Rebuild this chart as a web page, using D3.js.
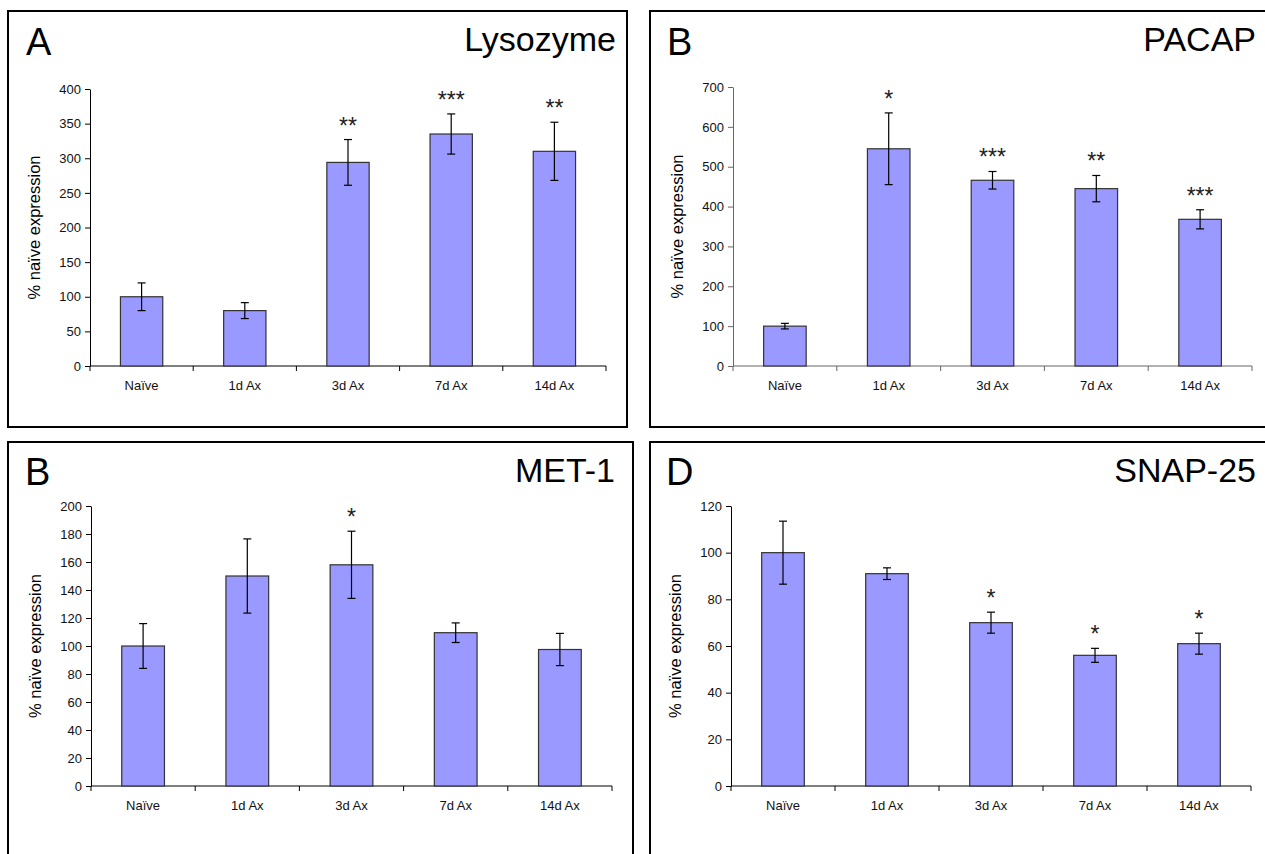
<!DOCTYPE html>
<html>
<head>
<meta charset="utf-8">
<script src="https://cdn.jsdelivr.net/npm/d3@7.9.0/dist/d3.min.js"></script>
<style>
  body { margin: 0; background: #fff; }
  svg { display: block; font-family: "Liberation Sans", Arial, sans-serif; }
</style>
</head>
<body>
<svg id="chart" width="1265" height="854"></svg>
<script>
// categories shared by all four panels
const categories = ["Naïve", "1d Ax", "3d Ax", "7d Ax", "14d Ax"];

// Lysozyme
const lysozymeMeans = [100, 80, 294, 335, 310];
const lysozymeErrors = [20, 11.5, 33, 29, 42];
const lysozymeStars = ["", "", "**", "***", "**"];
const lysozymeTicks = [0, 50, 100, 150, 200, 250, 300, 350, 400];

// PACAP
const pacapMeans = [100, 545, 466, 445, 368];
const pacapErrors = [7, 90, 22, 33, 24];
const pacapStars = ["", "*", "***", "**", "***"];
const pacapTicks = [0, 100, 200, 300, 400, 500, 600, 700];

// MET-1
const met1Means = [100, 150, 158, 109.5, 97.5];
const met1Errors = [16, 26.5, 24, 7, 11.5];
const met1Stars = ["", "", "*", "", ""];
const met1Ticks = [0, 20, 40, 60, 80, 100, 120, 140, 160, 180, 200];

// SNAP-25
const snapMeans = [100, 91, 70, 56, 61];
const snapErrors = [13.5, 2.5, 4.5, 3, 4.5];
const snapStars = ["", "", "*", "*", "*"];
const snapTicks = [0, 20, 40, 60, 80, 100, 120];

const svg = d3.select("#chart");
const barFill = "#9999ff";

// one boxed panel with a bar chart inside
function drawPanel(p) {
  const g = svg.append("g");

  g.append("rect")
    .attr("x", p.box[0]).attr("y", p.box[1])
    .attr("width", p.box[2] - p.box[0]).attr("height", p.box[3] - p.box[1])
    .attr("fill", "none").attr("stroke", "#000").attr("stroke-width", 2);

  g.append("text")
    .attr("x", p.letterX).attr("y", p.letterY)
    .attr("font-size", 38)
    .text(p.letter);

  g.append("text")
    .attr("x", p.titleX).attr("y", p.titleY)
    .attr("text-anchor", "end")
    .attr("font-size", 34)
    .text(p.title);

  const x = d3.scaleBand()
    .domain(categories)
    .range([p.x0, p.x1])
    .paddingInner(0.59)
    .paddingOuter(0.295);

  const y = d3.scaleLinear()
    .domain([0, d3.max(p.ticks)])
    .range([p.y0, p.y1]);

  // y axis
  const yAxis = g.append("g")
    .attr("transform", `translate(${p.x0},0)`)
    .call(d3.axisLeft(y).tickValues(p.ticks).tickSize(5).tickPadding(4).tickSizeOuter(0));
  yAxis.selectAll("text").attr("font-size", 13).attr("fill", "#111");

  // x axis: ticks sit between the categories
  const xAxis = g.append("g")
    .attr("transform", `translate(0,${p.y0})`);
  xAxis.append("line")
    .attr("x1", p.x0).attr("x2", p.x1)
    .attr("stroke", p.axisColor);
  const step = x.step();
  d3.range(categories.length + 1).forEach((i) => {
    xAxis.append("line")
      .attr("x1", p.x0 + i * step).attr("x2", p.x0 + i * step)
      .attr("y1", 0).attr("y2", 5)
      .attr("stroke", p.axisColor);
  });
  xAxis.selectAll("text.cat")
    .data(categories)
    .join("text")
    .attr("class", "cat")
    .attr("x", (d) => x(d) + x.bandwidth() / 2)
    .attr("y", 24)
    .attr("text-anchor", "middle")
    .attr("font-size", 13)
    .attr("fill", "#111")
    .text((d) => d);

  yAxis.selectAll("line, path").attr("stroke", p.axisColor);

  // y label
  g.append("text")
    .attr("transform", `translate(${p.x0 - 50},${(p.y0 + p.y1) / 2}) rotate(-90)`)
    .attr("text-anchor", "middle")
    .attr("font-size", 16.5)
    .text("% naïve expression");

  // bars
  g.selectAll("rect.bar")
    .data(p.means)
    .join("rect")
    .attr("class", "bar")
    .attr("x", (d, i) => x(categories[i]))
    .attr("y", (d) => y(d))
    .attr("width", x.bandwidth())
    .attr("height", (d) => y(0) - y(d))
    .attr("fill", barFill)
    .attr("stroke", "#333")
    .attr("stroke-width", 1.2);

  // error bars
  p.means.forEach((m, i) => {
    const cx = x(categories[i]) + x.bandwidth() / 2;
    const top = y(m + p.errors[i]);
    const bot = y(m - p.errors[i]);
    g.append("line").attr("x1", cx).attr("x2", cx).attr("y1", top).attr("y2", bot)
      .attr("stroke", "#000").attr("stroke-width", 1.2);
    [top, bot].forEach((yy) => {
      g.append("line").attr("x1", cx - 4).attr("x2", cx + 4).attr("y1", yy).attr("y2", yy)
        .attr("stroke", "#000").attr("stroke-width", 1.2);
    });
    if (p.stars[i]) {
      g.append("text")
        .attr("x", cx).attr("y", top - 6)
        .attr("text-anchor", "middle")
        .attr("font-size", 23)
        .attr("fill", "#222")
        .text(p.stars[i]);
    }
  });
}

drawPanel({
  box: [8, 11, 627, 427], letter: "A", letterX: 26, letterY: 55,
  title: "Lysozyme", titleX: 616, titleY: 51,
  x0: 90, x1: 606, y0: 366, y1: 89, axisColor: "#000",
  means: lysozymeMeans, errors: lysozymeErrors, stars: lysozymeStars, ticks: lysozymeTicks
});

drawPanel({
  box: [650, 11, 1272, 427], letter: "B", letterX: 667, letterY: 55,
  title: "PACAP", titleX: 1256, titleY: 51,
  x0: 733, x1: 1252, y0: 366, y1: 87, axisColor: "#666",
  means: pacapMeans, errors: pacapErrors, stars: pacapStars, ticks: pacapTicks
});

drawPanel({
  box: [8, 442, 633, 870], letter: "B", letterX: 25, letterY: 485,
  title: "MET-1", titleX: 615, titleY: 482,
  x0: 91, x1: 612, y0: 786, y1: 506, axisColor: "#000",
  means: met1Means, errors: met1Errors, stars: met1Stars, ticks: met1Ticks
});

drawPanel({
  box: [650, 442, 1272, 870], letter: "D", letterX: 666, letterY: 485,
  title: "SNAP-25", titleX: 1256, titleY: 482,
  x0: 731, x1: 1251, y0: 786, y1: 506, axisColor: "#000",
  means: snapMeans, errors: snapErrors, stars: snapStars, ticks: snapTicks
});
</script>
</body>
</html>
